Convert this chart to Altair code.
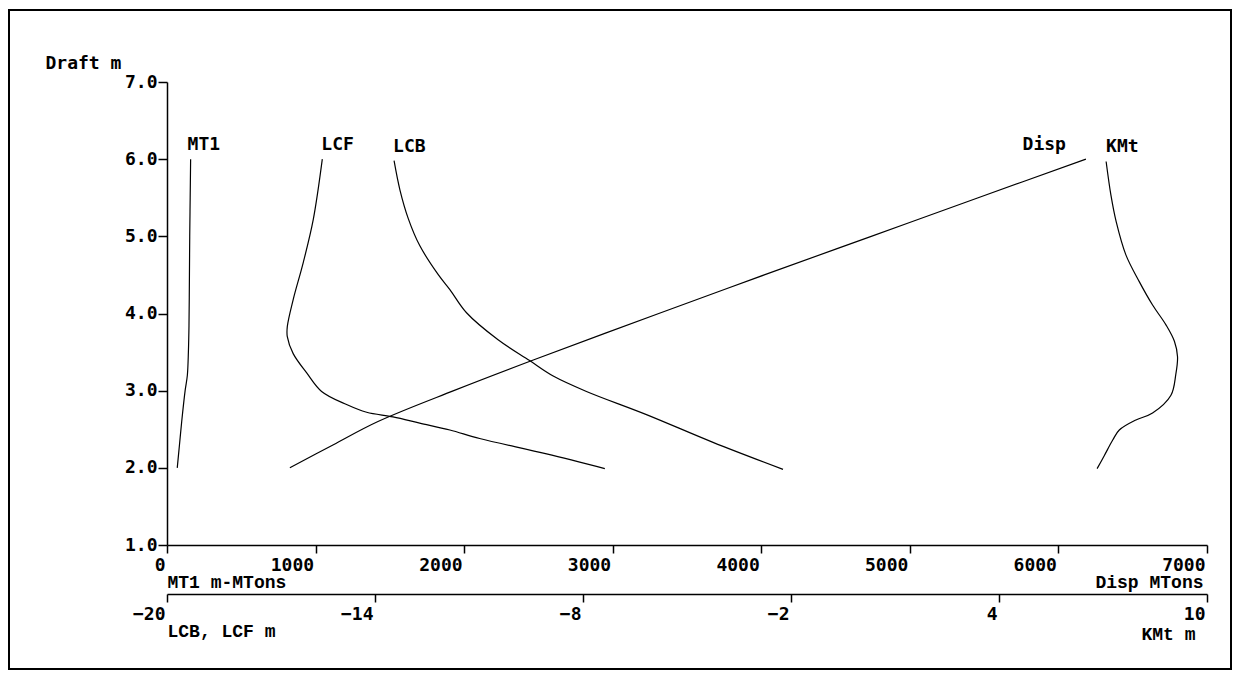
import altair as alt
import pandas as pd

# ---------------- data ----------------
mt1_draft = [2.00, 2.30, 2.60, 3.00, 3.20, 3.50, 3.84, 4.50, 5.00, 5.50, 6.00]
mt1_val = [69, 84, 99, 122, 137, 144, 148, 151, 153, 156, 159]

disp_draft = [2.00, 2.30, 2.60, 3.00, 3.40, 4.00, 4.50, 5.00, 5.50, 6.00]
disp_val = [827, 1120, 1420, 1930, 2470, 3310, 4020, 4740, 5460, 6185]

lcf_draft = [6.00, 5.22, 4.66, 4.18, 3.83, 3.70, 3.48, 3.23, 2.99, 2.82, 2.72,
             2.66, 2.58, 2.49, 2.38, 2.18, 1.99]
lcf_val = [-15.52, -15.78, -16.07, -16.36, -16.53, -16.53, -16.36, -15.97, -15.54,
           -14.82, -14.24, -13.48, -12.71, -11.84, -10.98, -9.05, -7.37]

lcb_draft = [5.98, 5.60, 5.23, 4.88, 4.50, 4.31, 4.01, 3.66, 3.39, 3.19, 2.99,
             2.69, 2.33, 1.98]
lcb_val = [-13.45, -13.28, -13.04, -12.71, -12.17, -11.84, -11.36, -10.45, -9.54,
           -8.86, -7.90, -6.17, -4.25, -2.23]

kmt_draft = [5.97, 5.53, 5.19, 4.76, 4.41, 4.11, 3.85, 3.64, 3.44, 3.21, 2.94,
             2.71, 2.62, 2.49, 2.36, 2.16, 1.99]
kmt_val = [7.09, 7.23, 7.38, 7.66, 8.05, 8.43, 8.82, 9.06, 9.15, 9.10, 8.96,
           8.43, 7.95, 7.47, 7.28, 7.04, 6.83]

draft_ticks = [1, 2, 3, 4, 5, 6, 7]
primary_ticks = [0, 1000, 2000, 3000, 4000, 5000, 6000, 7000]
secondary_ticks = [-20, -14, -8, -2, 4, 10]

# ---------------- styling ----------------
MONO = "DejaVu Sans Mono"
SERIF_MONO = "Liberation Mono"
FS = 18
W, H = 1040, 463
PAD = {"left": 159, "top": 74, "right": 26, "bottom": 128}


def frame(drafts, vals, name):
    return pd.DataFrame({"draft": drafts, "val": vals,
                         "i": list(range(len(drafts))), "series": name})


Y = alt.Y(
    "draft:Q",
    scale=alt.Scale(domain=[1, 7], nice=False, zero=False),
    axis=alt.Axis(
        values=draft_ticks, format=".1f", orient="left", grid=False,
        domainColor="black", domainWidth=1.5, tickColor="black", tickWidth=1.5,
        tickSize=9, labelPadding=1, labelFont=MONO, labelFontSize=FS,
        labelFontWeight="bold", labelColor="black", labelFlush=False,
        labelOverlap=False,
        title="Draft m", titleAngle=0, titleX=-122, titleY=-19,
        titleAlign="left", titleBaseline="middle", titleFont=MONO,
        titleFontSize=FS, titleFontWeight="bold", titleColor="black",
    ),
)


def full_axis(values, offset, title):
    return alt.Axis(
        values=values, format="d", orient="bottom", offset=offset, grid=False,
        domainColor="black", domainWidth=1.5, tickColor="black", tickWidth=1.5,
        tickSize=8, labelFont=MONO, labelFontSize=FS, labelFontWeight="bold",
        labelColor="black", labelAlign="right", labelBaseline="top",
        labelPadding=3, labelOffset=-2, labelFlush=False, labelOverlap=False,
        title=title, titleFont=SERIF_MONO, titleFontSize=FS,
        titleFontWeight="bold", titleColor="black", titleAlign="left",
        titleBaseline="middle", titleX=0, titleY=37, titleAnchor="start",
    )


def title_axis(offset, title, tx, ty):
    return alt.Axis(
        orient="bottom", offset=offset, grid=False, domain=False, ticks=False,
        labels=False, title=title, titleFont=SERIF_MONO, titleFontSize=FS,
        titleFontWeight="bold", titleColor="black", titleAlign="right",
        titleBaseline="middle", titleX=tx, titleY=ty, titleAnchor="end",
    )


def group(df, domain, axis, align, dx):
    df = df.reset_index(drop=True)
    X = alt.X("val:Q", scale=alt.Scale(domain=domain, nice=False, zero=False),
              axis=axis)
    line = alt.Chart(df).mark_line(
        color="black", strokeWidth=1.2, interpolate="catmull-rom"
    ).encode(x=X, y=Y, order="i:Q", detail="series:N")
    top = df.loc[df.groupby("series")["draft"].idxmax()]
    text = alt.Chart(top).mark_text(
        align=align, baseline="middle", dx=dx, dy=-14, font=MONO,
        fontSize=FS, fontWeight="bold", color="black",
    ).encode(x=X, y=Y, text="series:N")
    return alt.layer(line, text)


g_mt1 = group(frame(mt1_draft, mt1_val, "MT1"), [0, 7000],
              full_axis(primary_ticks, 0, "MT1 m-MTons"), "left", -3)
g_disp = group(frame(disp_draft, disp_val, "Disp"), [0, 7000],
               title_axis(0, "Disp MTons", W - 4, 37), "right", -20)
lc_df = pd.concat([frame(lcf_draft, lcf_val, "LCF"),
                   frame(lcb_draft, lcb_val, "LCB")])
g_lc = group(lc_df, [-20, 10],
             full_axis(secondary_ticks, 49, "LCB, LCF m"), "left", -1)
g_kmt = group(frame(kmt_draft, kmt_val, "KMt"), [-20, 10],
              title_axis(49, "KMt m", W - 12, 40), "left", 0)

border = alt.Chart(pd.DataFrame({"k": [0]})).mark_rect(
    filled=False, stroke="black", strokeWidth=2
).encode(x=alt.value(-158), x2=alt.value(W + PAD["right"] - 2),
         y=alt.value(-72), y2=alt.value(H + PAD["bottom"] - 4))

chart = alt.layer(g_mt1, g_disp, g_lc, g_kmt, border).resolve_scale(
    x="independent"
).resolve_axis(x="independent").properties(
    width=W, height=H, padding=PAD,
    autosize=alt.AutoSizeParams(type="none"),
    background="white",
).configure_view(stroke="transparent")

chart.save("out.html", embed_options={"renderer": "svg", "actions": False})
